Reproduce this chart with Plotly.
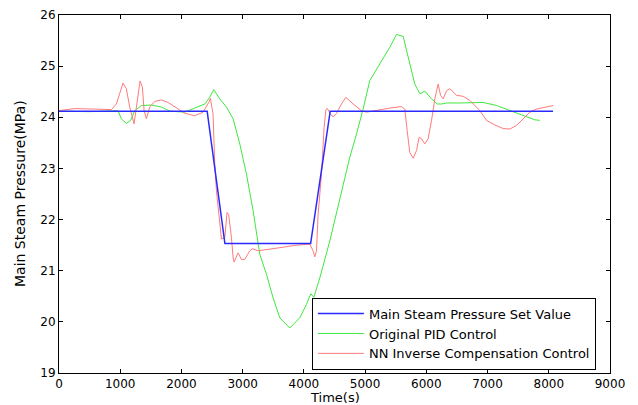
import plotly.graph_objects as go

# Set value
t_set = [0, 2420, 2710, 4110, 4430, 8070]
v_set = [24.12, 24.12, 21.53, 21.53, 24.12, 24.12]

# Original PID control
t_pid = [0, 500, 965, 1019, 1100, 1171, 1237, 1346, 1510, 1673, 1809, 2054, 2217, 2381,
         2462, 2528, 2626, 2735, 2844, 2953, 3062, 3171, 3280, 3389, 3497, 3606, 3770,
         3933, 4042, 4113, 4162, 4260, 4423, 4587, 4750, 4859, 4967, 5077, 5240, 5404,
         5513, 5622, 5703, 5812, 5894, 5976, 6085, 6177, 6248, 6330, 6547, 6928, 7147,
         7364, 7582, 7773, 7855]
v_pid = [24.12, 24.11, 24.13, 23.97, 23.88, 23.94, 24.13, 24.23, 24.24, 24.2, 24.12, 24.1,
         24.18, 24.26, 24.39, 24.54, 24.36, 24.2, 23.97, 23.48, 22.89, 22.17, 21.32, 20.93,
         20.47, 20.08, 19.88, 20.08, 20.34, 20.55, 20.48, 20.86, 21.58, 22.43, 23.22, 23.67,
         24.16, 24.72, 25.05, 25.37, 25.62, 25.58, 25.18, 24.65, 24.46, 24.51, 24.36, 24.26,
         24.26, 24.28, 24.28, 24.29, 24.23, 24.13, 24.03, 23.95, 23.94]

# NN inverse compensation control
t_nn = [0, 257, 600, 856, 937, 1000, 1046, 1100, 1155, 1226, 1280, 1324, 1362, 1390, 1428,
        1482, 1564, 1673, 1781, 1891, 2054, 2217, 2353, 2446, 2473, 2516, 2544, 2572, 2626,
        2654, 2708, 2745, 2771, 2817, 2844, 2860, 2925, 2980, 3034, 3116, 3160, 3252, 3606,
        3879, 4096, 4150, 4178, 4206, 4232, 4288, 4330, 4360, 4385, 4440, 4477, 4532, 4614,
        4685, 4804, 4941, 5023, 5186, 5404, 5595, 5649, 5687, 5730, 5785, 5840, 5882, 5922,
        5975, 6029, 6085, 6139, 6193, 6232, 6275, 6330, 6384, 6493, 6602, 6711, 6793, 6874,
        6983, 7119, 7255, 7364, 7473, 7582, 7691, 7800, 7964, 8072]
v_nn = [24.13, 24.17, 24.16, 24.15, 24.26, 24.5, 24.67, 24.56, 24.2, 23.87, 24.39, 24.71,
        24.59, 24.13, 23.97, 24.2, 24.31, 24.34, 24.29, 24.2, 24.08, 24.03, 24.1, 24.29,
        24.37, 24.07, 23.09, 22.56, 21.97, 21.62, 21.65, 22.14, 22.1, 21.65, 21.25, 21.17,
        21.35, 21.22, 21.22, 21.39, 21.43, 21.39, 21.45, 21.5, 21.52, 21.39, 21.27, 21.39,
        22.1, 22.89, 23.8, 24.15, 24.17, 24.05, 24.01, 24.07, 24.26, 24.39, 24.26, 24.13,
        24.1, 24.14, 24.18, 24.21, 24.16, 23.74, 23.31, 23.2, 23.35, 23.61, 23.58, 23.48,
        23.58, 23.94, 24.36, 24.65, 24.43, 24.36, 24.52, 24.56, 24.43, 24.41, 24.33, 24.23,
        24.13, 23.94, 23.85, 23.78, 23.77, 23.84, 23.97, 24.1, 24.16, 24.2, 24.23]

x_ticks = [0, 1000, 2000, 3000, 4000, 5000, 6000, 7000, 8000, 9000]
y_ticks = [19, 20, 21, 22, 23, 24, 25, 26]

FONT = "DejaVu Sans, Arial"

fig = go.Figure()
fig.add_trace(go.Scatter(x=t_pid, y=v_pid, mode="lines", name="Original PID Control",
                         line=dict(color="#3ee83e", width=1), legendrank=2))
fig.add_trace(go.Scatter(x=t_nn, y=v_nn, mode="lines", name="NN Inverse Compensation Control",
                         line=dict(color="#ff7a7a", width=1), legendrank=3))
fig.add_trace(go.Scatter(x=t_set, y=v_set, mode="lines", name="Main Steam Pressure Set Value",
                         line=dict(color="#2a2aff", width=1.5), legendrank=1))

axis_common = dict(showgrid=False, zeroline=False, showline=True, linecolor="black",
                   linewidth=1, mirror="ticks", ticks="inside", ticklen=4,
                   tickcolor="black", automargin=False,
                   tickfont=dict(family=FONT, size=12, color="black"))

fig.update_layout(
    width=630, height=397,
    margin=dict(l=51, r=28, t=7, b=32),
    paper_bgcolor="white", plot_bgcolor="white",
    font=dict(family=FONT, size=12, color="black"),
    xaxis=dict(range=[0, 9000], tickvals=x_ticks, ticktext=[str(v) for v in x_ticks],
               **axis_common),
    yaxis=dict(range=[19, 26], tickvals=y_ticks, ticktext=[str(v) for v in y_ticks],
               **axis_common),
    legend=dict(x=0.459, y=0.11, xanchor="left", yanchor="middle", bgcolor="white",
                bordercolor="black", borderwidth=1, font=dict(family=FONT, size=13),
                tracegroupgap=0, itemwidth=46),
    showlegend=True,
    annotations=[
        dict(text="Time(s)", xref="paper", yref="paper", x=0.5, y=0.0, yshift=-24,
             xanchor="center", yanchor="middle", showarrow=False,
             font=dict(family=FONT, size=13, color="black")),
        dict(text="Main Steam Pressure(MPa)", xref="paper", yref="paper", x=0, xshift=-39,
             y=0.5, textangle=-90, xanchor="center", yanchor="middle", showarrow=False,
             font=dict(family=FONT, size=14, color="black")),
    ],
)

fig.write_html("out.html")
